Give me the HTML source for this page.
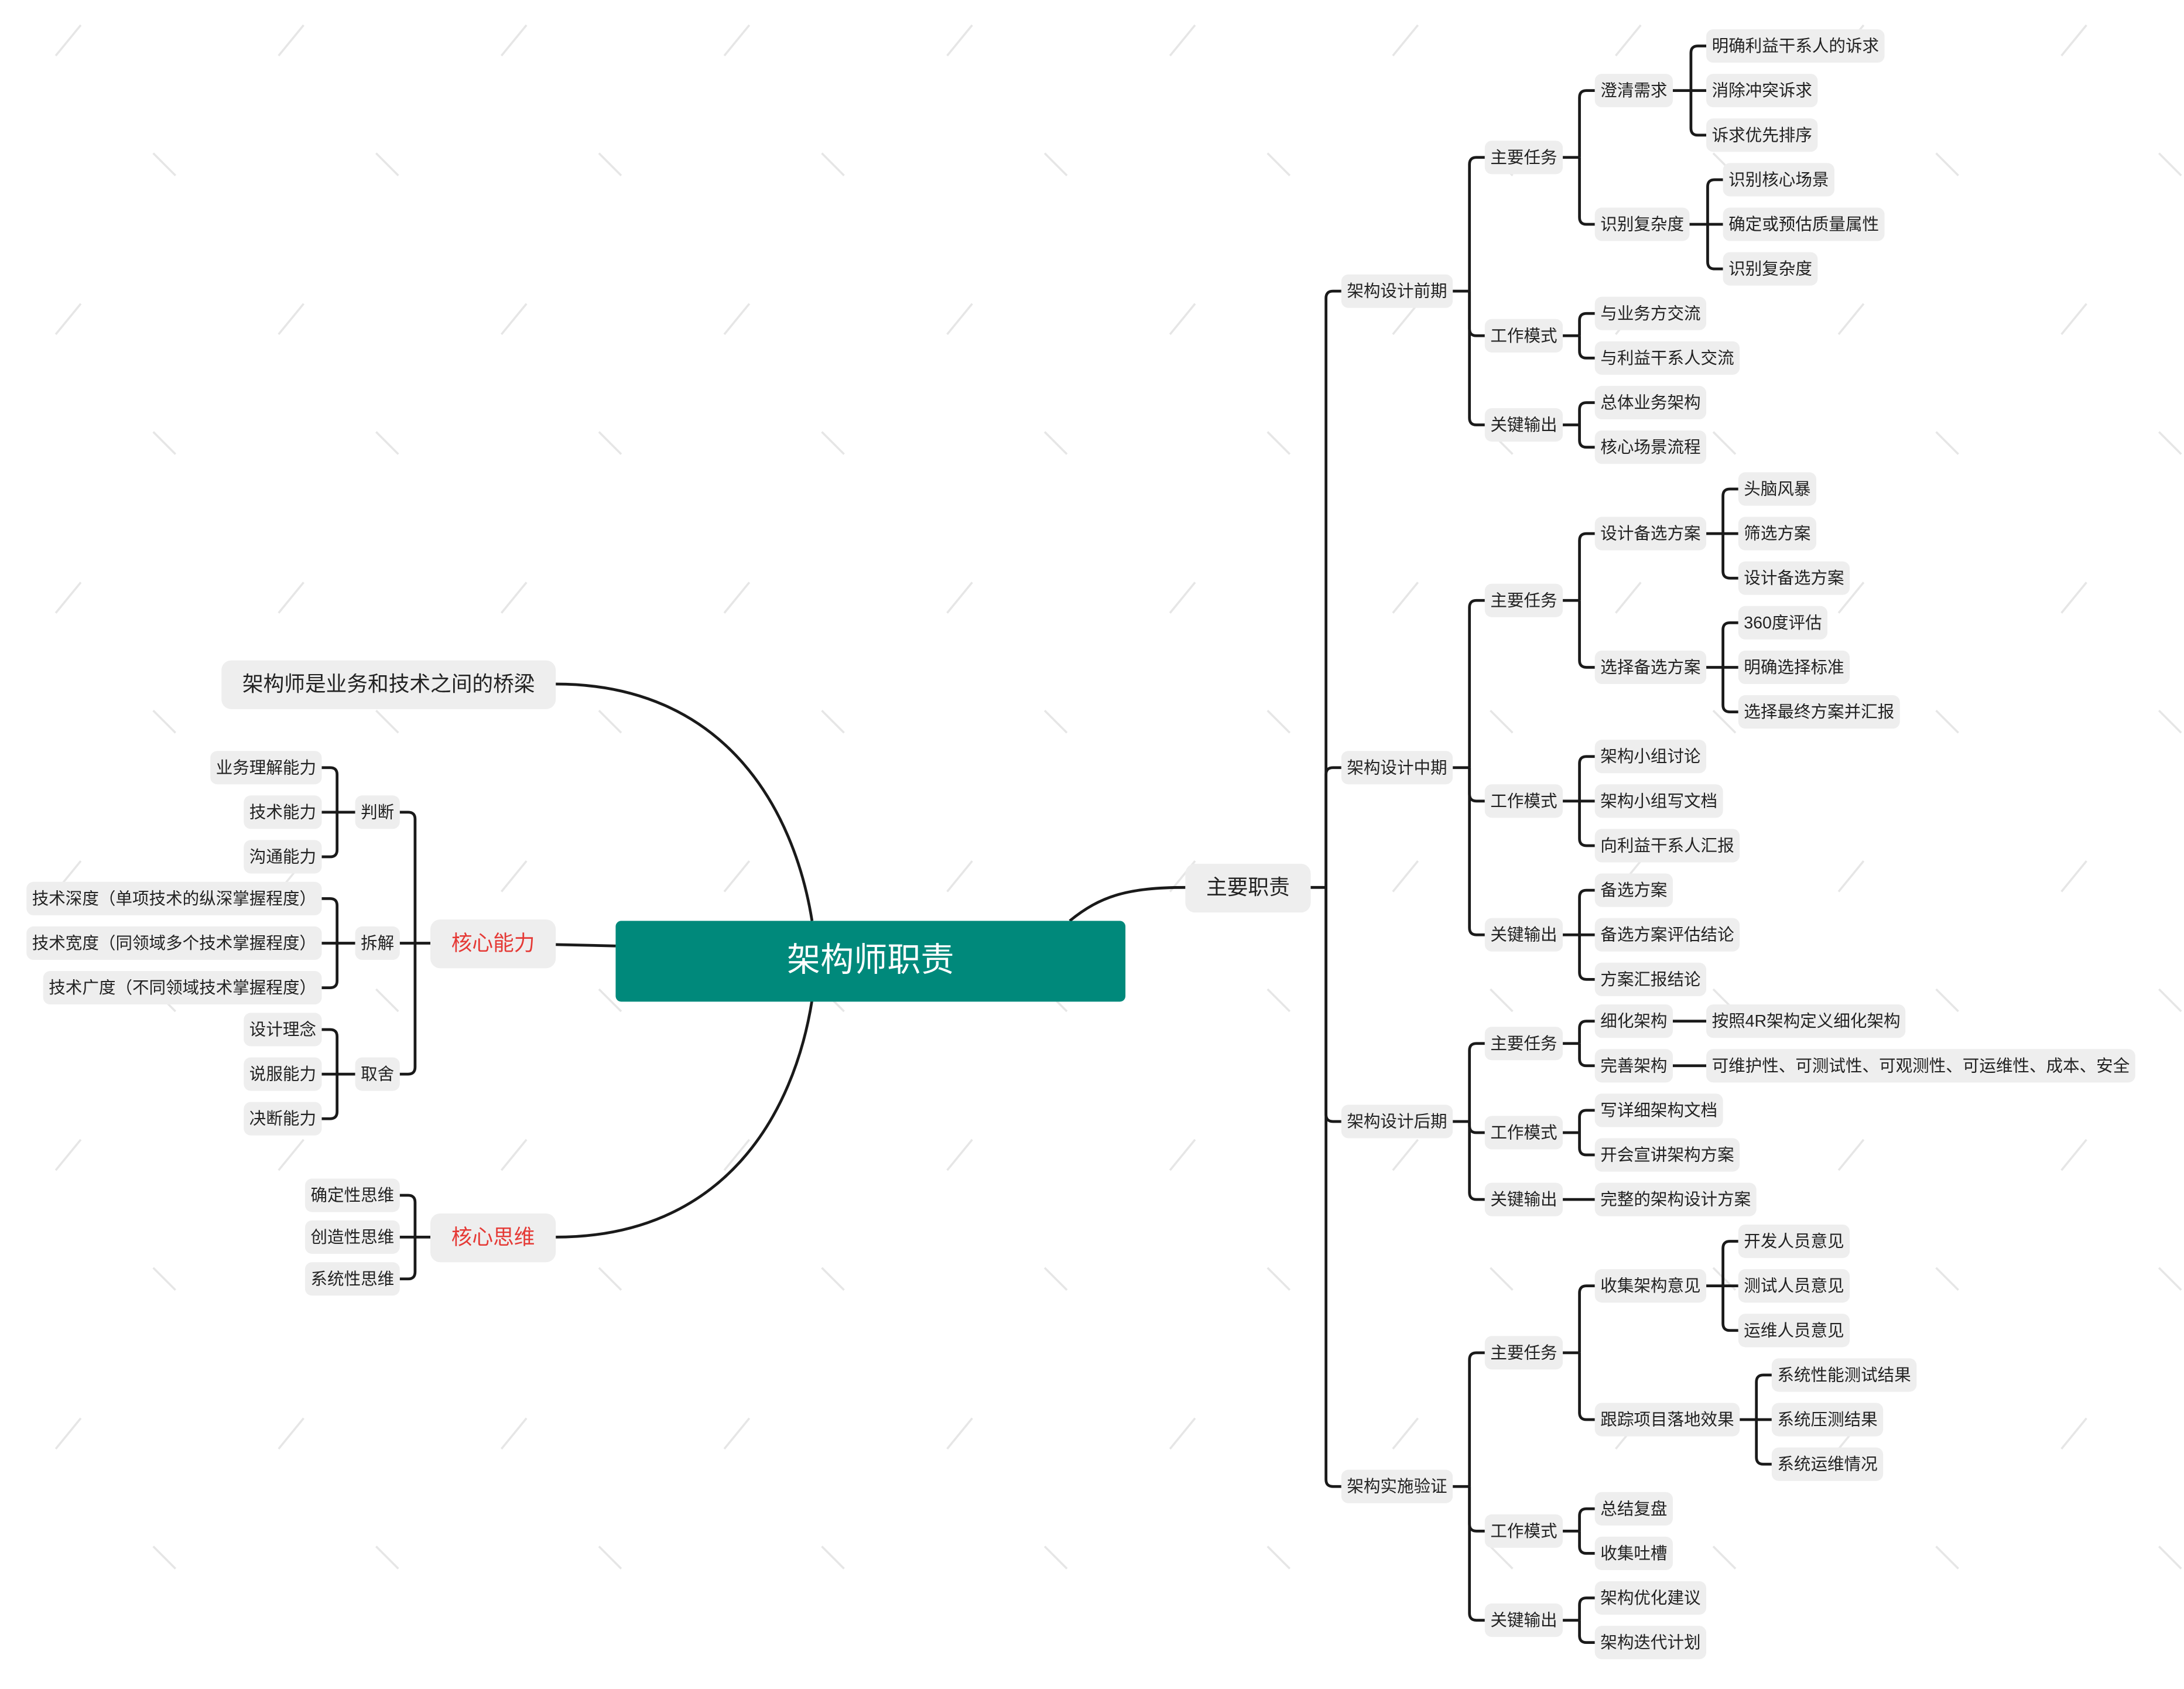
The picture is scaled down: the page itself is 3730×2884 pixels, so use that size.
<!DOCTYPE html>
<html><head><meta charset="utf-8"><style>
html,body{margin:0;padding:0;background:#fff;}
body{width:3730px;height:2884px;overflow:hidden;position:relative;}
#stage{position:absolute;left:0;top:0;width:1568px;height:1212px;transform:scale(2.37883);transform-origin:0 0;font-family:"Liberation Sans","Noto Sans CJK SC",sans-serif;}
.n{position:absolute;background:#eeeeee;border-radius:5px;color:#222;font-size:12px;height:24px;line-height:24px;padding:0 4px;white-space:nowrap;}
.b{font-size:15px;height:35px;line-height:35px;padding:0 15px;border-radius:7px;}
.red{color:#e53935;}
.c{background:#00897b;color:#fff;font-size:24px;height:58px;line-height:58px;border-radius:4px;text-align:center;}
svg{position:absolute;left:0;top:0;}
</style></head><body><div id="stage">
<svg id="sv" width="1568" height="1212"></svg>
</div>
<script>
var st=document.getElementById('stage'),sv=document.getElementById('sv');
var NS='http://www.w3.org/2000/svg';
function path(d,w){var p=document.createElementNS(NS,'path');p.setAttribute('d',d);p.setAttribute('fill','none');p.setAttribute('stroke','#1a1a1a');p.setAttribute('stroke-width',w||2);sv.appendChild(p);}
function mk(t,cls){var d=document.createElement('div');d.className='n '+(cls||'');d.textContent=t;st.appendChild(d);return d;}
(function(){var s='';for(var i=0;i<60;i++){var x=(i%10)*160+40,y=Math.floor(i/10)*200+10;s+='M'+x+','+(y+30)+' l18,-22 M'+(x+70)+','+(y+100)+' l16,16 ';}var p=document.createElementNS(NS,'path');p.setAttribute('d',s);p.setAttribute('stroke','#e6e6e6');p.setAttribute('stroke-width','1.5');sv.appendChild(p);})();
function place(t,x,y,cls,right){var d=mk(t,cls);var h=d.offsetHeight,w=d.offsetWidth;d.style.top=(y-h/2)+'px';d.style.left=(right?x-w:x)+'px';return {l:right?x-w:x,r:right?x:x+w,y:y};}
function R(node,px,py,left){
 var info=place(node[0],node[1],node[2],node[4]||'',left);
 var ch=node[3]||[];
 if(!ch.length)return info;
 var cinfos=ch.map(function(c){return R(c,0,0,left);});
 var pe=left?info.l:info.r;
 var ce=cinfos.map(function(c){return left?c.r:c.l;});
 if(ch.length==1){path('M'+pe+','+info.y+' H'+ce[0]);return info;}
 var sx=left?ce[0]+11:ce[0]-11;var dir=left?-1:1;var r=5;
 path('M'+pe+','+info.y+' H'+sx);
 cinfos.forEach(function(c,i){var cy=c.y,cx=ce[i];
  if(Math.abs(cy-info.y)<1){path('M'+sx+','+cy+' H'+cx);return;}
  var s=cy>info.y?1:-1;
  path('M'+sx+','+info.y+' V'+(cy-s*r)+' Q'+sx+','+cy+' '+(sx+dir*r)+','+cy+' H'+cx);});
 return info;}
var right=['主要职责',851,637,[
 ['架构设计前期',963,209,[
  ['主要任务',1066,113,[
   ['澄清需求',1145,65,[['明确利益干系人的诉求',1225,33],['消除冲突诉求',1225,65],['诉求优先排序',1225,97]]],
   ['识别复杂度',1145,161,[['识别核心场景',1237,129],['确定或预估质量属性',1237,161],['识别复杂度',1237,193]]]]],
  ['工作模式',1066,241,[['与业务方交流',1145,225],['与利益干系人交流',1145,257]]],
  ['关键输出',1066,305,[['总体业务架构',1145,289],['核心场景流程',1145,321]]]]],
 ['架构设计中期',963,551,[
  ['主要任务',1066,431,[
   ['设计备选方案',1145,383,[['头脑风暴',1248,351],['筛选方案',1248,383],['设计备选方案',1248,415]]],
   ['选择备选方案',1145,479,[['360度评估',1248,447],['明确选择标准',1248,479],['选择最终方案并汇报',1248,511]]]]],
  ['工作模式',1066,575,[['架构小组讨论',1145,543],['架构小组写文档',1145,575],['向利益干系人汇报',1145,607]]],
  ['关键输出',1066,671,[['备选方案',1145,639],['备选方案评估结论',1145,671],['方案汇报结论',1145,703]]]]],
 ['架构设计后期',963,805,[
  ['主要任务',1066,749,[['细化架构',1145,733,[['按照4R架构定义细化架构',1225,733]]],['完善架构',1145,765,[['可维护性、可测试性、可观测性、可运维性、成本、安全',1225,765]]]]],
  ['工作模式',1066,813,[['写详细架构文档',1145,797],['开会宣讲架构方案',1145,829]]],
  ['关键输出',1066,861,[['完整的架构设计方案',1145,861]]]]],
 ['架构实施验证',963,1067,[
  ['主要任务',1066,971,[
   ['收集架构意见',1145,923,[['开发人员意见',1248,891],['测试人员意见',1248,923],['运维人员意见',1248,955]]],
   ['跟踪项目落地效果',1145,1019,[['系统性能测试结果',1272,987],['系统压测结果',1272,1019],['系统运维情况',1272,1051]]]]],
  ['工作模式',1066,1099,[['总结复盘',1145,1083],['收集吐槽',1145,1115]]],
  ['关键输出',1066,1163,[['架构优化建议',1145,1147],['架构迭代计划',1145,1179]]]]]],'b'];
R(right,0,0,false);
R(['核心能力',399,677,[
 ['判断',287,583,[['业务理解能力',231,551],['技术能力',231,583],['沟通能力',231,615]]],
 ['拆解',287,677,[['技术深度（单项技术的纵深掌握程度）',231,645],['技术宽度（同领域多个技术掌握程度）',231,677],['技术广度（不同领域技术掌握程度）',231,709]]],
 ['取舍',287,771,[['设计理念',231,739],['说服能力',231,771],['决断能力',231,803]]]],'b red'],0,0,true);
R(['核心思维',399,888,[['确定性思维',287,858],['创造性思维',287,888],['系统性思维',287,918]],'b red'],0,0,true);
place('架构师是业务和技术之间的桥梁',399,491,'b',true);
var c=mk('架构师职责','c');c.style.left='442px';c.style.top='661px';c.style.width='366px';c.style.padding='0';
path('M399,491 C520,491 570,580 583,661');
path('M399,888 C520,888 570,800 583,718');
path('M399,678 L442,679');
path('M768,661 C790,643 810,637 851,637');
</script>
</body></html>
